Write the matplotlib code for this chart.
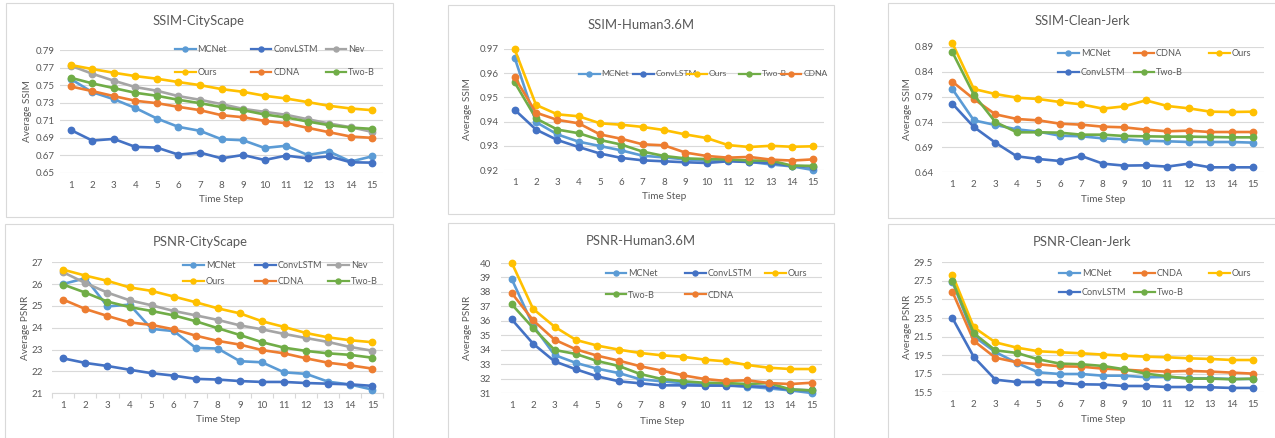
import matplotlib
matplotlib.use("Agg")
import matplotlib.pyplot as plt
from matplotlib.lines import Line2D
from matplotlib.patches import Rectangle
from matplotlib.ticker import FixedLocator, FormatStrFormatter

plt.rcParams['font.family'] = ['Lato', 'DejaVu Sans']

# ---------------------------------------------------------------- data
STEPS = list(range(1, 16))

SSIM_CITY_MCNET = [0.757, 0.742, 0.734, 0.724, 0.712, 0.7025, 0.698, 0.6884, 0.6873, 0.6785, 0.681, 0.6705, 0.6744, 0.663, 0.669]
SSIM_CITY_CONVLSTM = [0.699, 0.6869, 0.6888, 0.6797, 0.6789, 0.6709, 0.6732, 0.6667, 0.6705, 0.6648, 0.6698, 0.6667, 0.669, 0.6622, 0.6618]
SSIM_CITY_NEV = [0.7721, 0.763, 0.755, 0.7478, 0.7436, 0.7375, 0.7333, 0.7284, 0.723, 0.7196, 0.7162, 0.7112, 0.7063, 0.7021, 0.6968]
SSIM_CITY_OURS = [0.7729, 0.7683, 0.7641, 0.7603, 0.7573, 0.7535, 0.75, 0.7455, 0.7424, 0.7379, 0.7348, 0.7307, 0.7265, 0.7234, 0.7215]
SSIM_CITY_CDNA = [0.7485, 0.7432, 0.7375, 0.7322, 0.7295, 0.7253, 0.7215, 0.7158, 0.7135, 0.7093, 0.7067, 0.7014, 0.6964, 0.6915, 0.69]
SSIM_CITY_TWOB = [0.7584, 0.752, 0.7466, 0.7413, 0.7379, 0.7333, 0.7295, 0.725, 0.7215, 0.7166, 0.7132, 0.7086, 0.7044, 0.7017, 0.7002]

SSIM_H36M_MCNET = [0.9664, 0.9398, 0.9347, 0.9317, 0.9299, 0.9281, 0.9259, 0.9252, 0.9244, 0.9239, 0.924, 0.9234, 0.9223, 0.9215, 0.92]
SSIM_H36M_CONVLSTM = [0.9449, 0.9367, 0.9324, 0.9295, 0.9268, 0.925, 0.924, 0.9236, 0.9232, 0.9229, 0.9236, 0.9233, 0.9229, 0.9217, 0.9214]
SSIM_H36M_OURS = [0.9699, 0.9469, 0.943, 0.9422, 0.9393, 0.9387, 0.9378, 0.9365, 0.9347, 0.9332, 0.9303, 0.9295, 0.93, 0.9296, 0.9298]
SSIM_H36M_TWOB = [0.9562, 0.9413, 0.9367, 0.9352, 0.9324, 0.9305, 0.9276, 0.9258, 0.9248, 0.9245, 0.9244, 0.9239, 0.9239, 0.9218, 0.9217]
SSIM_H36M_CDNA = [0.9583, 0.9437, 0.9407, 0.9393, 0.9347, 0.9329, 0.9306, 0.9302, 0.9272, 0.9258, 0.9251, 0.9254, 0.9243, 0.9239, 0.9244]

SSIM_CJ_MCNET = [0.8058, 0.7434, 0.7342, 0.7255, 0.7209, 0.7129, 0.7116, 0.7076, 0.7057, 0.703, 0.7017, 0.7003, 0.7003, 0.7003, 0.699]
SSIM_CJ_CDNA = [0.8204, 0.7859, 0.7554, 0.7461, 0.7434, 0.7368, 0.7348, 0.7308, 0.7295, 0.7249, 0.7216, 0.7229, 0.7202, 0.7202, 0.7202]
SSIM_CJ_OURS = [0.8973, 0.8058, 0.7958, 0.7885, 0.7859, 0.7799, 0.7753, 0.7667, 0.7713, 0.7832, 0.772, 0.7673, 0.7607, 0.76, 0.7607]
SSIM_CJ_CONVLSTM = [0.7766, 0.7302, 0.699, 0.6718, 0.6665, 0.6625, 0.6725, 0.6572, 0.6533, 0.6539, 0.6513, 0.6572, 0.6499, 0.6499, 0.6499]
SSIM_CJ_TWOB = [0.8794, 0.7945, 0.7401, 0.7196, 0.7196, 0.7189, 0.7149, 0.7149, 0.7123, 0.7116, 0.711, 0.711, 0.7103, 0.7096, 0.7096]

PSNR_CITY_MCNET = [26.01, 26.27, 24.98, 25.06, 23.95, 23.85, 23.08, 23.05, 22.47, 22.42, 21.96, 21.89, 21.53, 21.40, 21.17]
PSNR_CITY_CONVLSTM = [22.6, 22.39, 22.25, 22.08, 21.92, 21.81, 21.66, 21.63, 21.56, 21.52, 21.52, 21.47, 21.44, 21.41, 21.34]
PSNR_CITY_NEV = [26.54, 26.05, 25.61, 25.26, 25.03, 24.77, 24.57, 24.36, 24.11, 23.93, 23.72, 23.53, 23.35, 23.12, 22.95]
PSNR_CITY_OURS = [26.66, 26.39, 26.15, 25.85, 25.69, 25.43, 25.17, 24.89, 24.66, 24.30, 24.04, 23.76, 23.56, 23.43, 23.34]
PSNR_CITY_CDNA = [25.29, 24.86, 24.54, 24.25, 24.13, 23.93, 23.64, 23.40, 23.23, 22.98, 22.83, 22.60, 22.40, 22.28, 22.13]
PSNR_CITY_TWOB = [25.98, 25.61, 25.2, 24.95, 24.77, 24.57, 24.30, 23.98, 23.67, 23.34, 23.09, 22.94, 22.83, 22.76, 22.63]

PSNR_H36M_MCNET = [38.89, 35.66, 33.63, 33.08, 32.68, 32.38, 31.95, 31.81, 31.67, 31.58, 31.55, 31.44, 31.32, 31.18, 31.0]
PSNR_H36M_CONVLSTM = [36.1, 34.41, 33.19, 32.64, 32.15, 31.81, 31.67, 31.53, 31.53, 31.51, 31.51, 31.46, 31.44, 31.23, 31.18]
PSNR_H36M_OURS = [40.02, 36.82, 35.59, 34.67, 34.28, 34.0, 33.77, 33.61, 33.51, 33.31, 33.19, 32.94, 32.75, 32.66, 32.66]
PSNR_H36M_TWOB = [37.14, 35.5, 33.98, 33.7, 33.21, 32.87, 32.31, 31.97, 31.81, 31.71, 31.69, 31.62, 31.69, 31.25, 31.18]
PSNR_H36M_CDNA = [37.92, 36.03, 34.69, 34.02, 33.58, 33.24, 32.85, 32.55, 32.22, 31.97, 31.83, 31.88, 31.69, 31.62, 31.71]

PSNR_CJ_MCNET = [27.42, 21.53, 19.84, 18.66, 17.65, 17.47, 17.47, 17.29, 17.29, 17.12, 17.15, 17.01, 17.01, 16.94, 16.94]
PSNR_CJ_CNDA = [26.34, 21.03, 19.23, 18.73, 18.52, 18.3, 18.26, 18.05, 17.94, 17.8, 17.73, 17.8, 17.73, 17.62, 17.51]
PSNR_CJ_OURS = [28.17, 22.5, 20.88, 20.31, 19.92, 19.81, 19.7, 19.56, 19.45, 19.34, 19.27, 19.16, 19.09, 18.98, 18.98]
PSNR_CJ_CONVLSTM = [23.51, 19.3, 16.86, 16.61, 16.61, 16.54, 16.36, 16.33, 16.18, 16.18, 16.07, 16.07, 16.04, 15.97, 15.97]
PSNR_CJ_TWOB = [27.53, 21.85, 20.02, 19.74, 19.05, 18.59, 18.52, 18.34, 17.98, 17.51, 17.22, 16.97, 16.97, 16.9, 16.97]

SSIM_CITY_TICKS = [0.65, 0.67, 0.69, 0.71, 0.73, 0.75, 0.77, 0.79]
SSIM_H36M_TICKS = [0.92, 0.93, 0.94, 0.95, 0.96, 0.97]
SSIM_CJ_TICKS = [0.64, 0.69, 0.74, 0.79, 0.84, 0.89]
PSNR_CITY_TICKS = [21, 22, 23, 24, 25, 26, 27]
PSNR_H36M_TICKS = [31, 32, 33, 34, 35, 36, 37, 38, 39, 40]
PSNR_CJ_TICKS = [15.5, 17.5, 19.5, 21.5, 23.5, 25.5, 27.5, 29.5]

COLORS = {
    'MCNet': '#5B9BD5', 'ConvLSTM': '#4472C4', 'Nev': '#A5A5A5',
    'Ours': '#FFC000', 'CDNA': '#ED7D31', 'CNDA': '#ED7D31', 'Two-B': '#70AD47',
}

# ---------------------------------------------------------------- layout (pixels)
W, H, DPI = 1275, 438, 100
TEXT = '#595959'
GRID = '#D9D9D9'

fig = plt.figure(figsize=(W / DPI, H / DPI), dpi=DPI)
fig.patch.set_facecolor('white')


def fig_xy(x, y):
    return x / W, 1 - y / H


panels = [
    dict(title='SSIM-CityScape', ylabel='Average SSIM', ticks=SSIM_CITY_TICKS, fmt='%.2f',
         series=[('MCNet', SSIM_CITY_MCNET), ('ConvLSTM', SSIM_CITY_CONVLSTM), ('Nev', SSIM_CITY_NEV),
                 ('Ours', SSIM_CITY_OURS), ('CDNA', SSIM_CITY_CDNA), ('Two-B', SSIM_CITY_TWOB)],
         box=(6, 3, 393, 217), area=(60, 50, 383, 173), tpos=(199, 21), ylx=27, xly=200, ypad=5,
         leg_x=[197.5, 273.3, 348.3], leg_y=[50, 72.7], leg_cols=3, leg_fs=6.6, cat_ticks=False),
    dict(title='SSIM-Human3.6M', ylabel='Average SSIM', ticks=SSIM_H36M_TICKS, fmt='%.2f',
         series=[('MCNet', SSIM_H36M_MCNET), ('ConvLSTM', SSIM_H36M_CONVLSTM), ('Ours', SSIM_H36M_OURS),
                 ('Two-B', SSIM_H36M_TWOB), ('CDNA', SSIM_H36M_CDNA)],
         box=(448, 5, 834, 214), area=(504, 49, 824, 170), tpos=(641, 25), ylx=468, xly=197, ypad=5,
         leg_x=[601.7, 655.7, 709, 761.7, 803.3], leg_y=[74], leg_cols=5, leg_fs=6.1, cat_ticks=False),
    dict(title='SSIM-Clean-Jerk', ylabel='Average SSIM', ticks=SSIM_CJ_TICKS, fmt='%.2f',
         series=[('MCNet', SSIM_CJ_MCNET), ('CDNA', SSIM_CJ_CDNA), ('Ours', SSIM_CJ_OURS),
                 ('ConvLSTM', SSIM_CJ_CONVLSTM), ('Two-B', SSIM_CJ_TWOB)],
         box=(888, 3, 1280, 218), area=(941.6, 46.7, 1264, 172.3), tpos=(1082, 21), ylx=908, xly=200, ypad=8,
         leg_x=[1080.7, 1156, 1231.7], leg_y=[54, 72.7], leg_cols=3, leg_fs=6.6, cat_ticks=False),
    dict(title='PSNR-CityScape', ylabel='Average PSNR', ticks=PSNR_CITY_TICKS, fmt='%d',
         series=[('MCNet', PSNR_CITY_MCNET), ('ConvLSTM', PSNR_CITY_CONVLSTM), ('Nev', PSNR_CITY_NEV),
                 ('Ours', PSNR_CITY_OURS), ('CDNA', PSNR_CITY_CDNA), ('Two-B', PSNR_CITY_TWOB)],
         box=(5, 224, 393, 445), area=(52.3, 262.3, 383.4, 393.3), tpos=(200, 242), ylx=26, xly=420, ypad=9,
         leg_x=[205.7, 277.7, 350.7], leg_y=[265.7, 281.7], leg_cols=3, leg_fs=6.6, cat_ticks=True),
    dict(title='PSNR-Human3.6M', ylabel='Average PSNR', ticks=PSNR_H36M_TICKS, fmt='%d',
         series=[('MCNet', PSNR_H36M_MCNET), ('ConvLSTM', PSNR_H36M_CONVLSTM), ('Ours', PSNR_H36M_OURS),
                 ('Two-B', PSNR_H36M_TWOB), ('CDNA', PSNR_H36M_CDNA)],
         box=(448, 223, 834, 445), area=(501, 263, 822.4, 393), tpos=(641, 241), ylx=468, xly=421, ypad=10,
         leg_x=[628.3, 707.7, 787.7], leg_y=[274, 295], leg_cols=3, leg_fs=6.6, cat_ticks=False),
    dict(title='PSNR-Clean-Jerk', ylabel='Average PSNR', ticks=PSNR_CJ_TICKS, fmt='%.1f',
         series=[('MCNet', PSNR_CJ_MCNET), ('CNDA', PSNR_CJ_CNDA), ('Ours', PSNR_CJ_OURS),
                 ('ConvLSTM', PSNR_CJ_CONVLSTM), ('Two-B', PSNR_CJ_TWOB)],
         box=(888, 224, 1280, 445), area=(941.6, 262.3, 1264, 392.3), tpos=(1082, 242), ylx=908, xly=420, ypad=9,
         leg_x=[1081.7, 1156.7, 1231.7], leg_y=[274, 292.3], leg_cols=3, leg_fs=6.6, cat_ticks=False),
]

HANDLE_PX = 20.5
TEXT_GAP_PX = 2.0

for p in panels:
    # chart frame
    bx0, by0, bx1, by1 = p['box']
    fig.patches.append(Rectangle((bx0 / W, 1 - by1 / H), (bx1 - bx0) / W, (by1 - by0) / H,
                                 transform=fig.transFigure, fill=False, edgecolor=GRID, lw=0.8))

    x0, y0, x1, y1 = p['area']
    ax = fig.add_axes([x0 / W, 1 - y1 / H, (x1 - x0) / W, (y1 - y0) / H])
    ax.set_facecolor('none')
    ticks = p['ticks']
    ax.set_ylim(ticks[0], ticks[-1])
    ax.set_xlim(0.5, len(STEPS) + 0.5)
    ax.yaxis.set_major_locator(FixedLocator(ticks))
    ax.yaxis.set_major_formatter(FormatStrFormatter(p['fmt']))
    ax.set_xticks(STEPS)
    ax.grid(axis='y', color=GRID, lw=0.8, zorder=0)
    ax.set_axisbelow(True)
    for s in ax.spines.values():
        s.set_visible(False)
    ax.tick_params(axis='y', length=0, pad=p['ypad'] * 72 / DPI, labelsize=7, labelcolor=TEXT)
    ax.tick_params(axis='x', length=0, pad=5.6, labelsize=7, labelcolor=TEXT)
    if p['cat_ticks']:
        ax.spines['bottom'].set_visible(True)
        ax.spines['bottom'].set_color(GRID)
        ax.spines['bottom'].set_linewidth(0.8)
        ax.set_xticks([s + 0.5 for s in [0] + STEPS], minor=True)
        ax.tick_params(axis='x', which='minor', length=3.5, width=0.8, color=GRID, direction='out')

    for name, vals in p['series']:
        ax.plot(STEPS, vals, color=COLORS[name], lw=1.9, marker='o', ms=4.6,
                mfc=COLORS[name], mec=COLORS[name], clip_on=False, zorder=3)

    # titles and axis titles
    fig.text(*fig_xy(*p['tpos']), p['title'], ha='center', va='center', fontsize=9.4, color=TEXT)
    fig.text(*fig_xy(p['ylx'], (y0 + y1) / 2), p['ylabel'], rotation=90, ha='center', va='center',
             fontsize=7.2, color=TEXT)
    fig.text(*fig_xy((x0 + x1) / 2, p['xly']), 'Time Step', ha='center', va='center',
             fontsize=7.2, color=TEXT)

    # legend entries on a grid, row by row; positions give where each label text starts
    names = [n for n, _ in p['series']]
    fs = p['leg_fs']
    fs_px = fs * DPI / 72
    for i, name in enumerate(names):
        r, c = divmod(i, p['leg_cols'])
        lx, ly = fig_xy(p['leg_x'][c] - HANDLE_PX - TEXT_GAP_PX, p['leg_y'][r])
        key = Line2D([], [], color=COLORS[name], lw=1.6, marker='o', ms=3.6,
                     mfc=COLORS[name], mec=COLORS[name])
        fig.legend([key], [name], loc='center left', bbox_to_anchor=(lx, ly),
                   bbox_transform=fig.transFigure, frameon=False, fontsize=fs,
                   labelcolor=TEXT, borderpad=0, borderaxespad=0,
                   handlelength=HANDLE_PX / fs_px, handletextpad=TEXT_GAP_PX / fs_px, numpoints=1)

fig.savefig('out.png', dpi=DPI, facecolor='white')
